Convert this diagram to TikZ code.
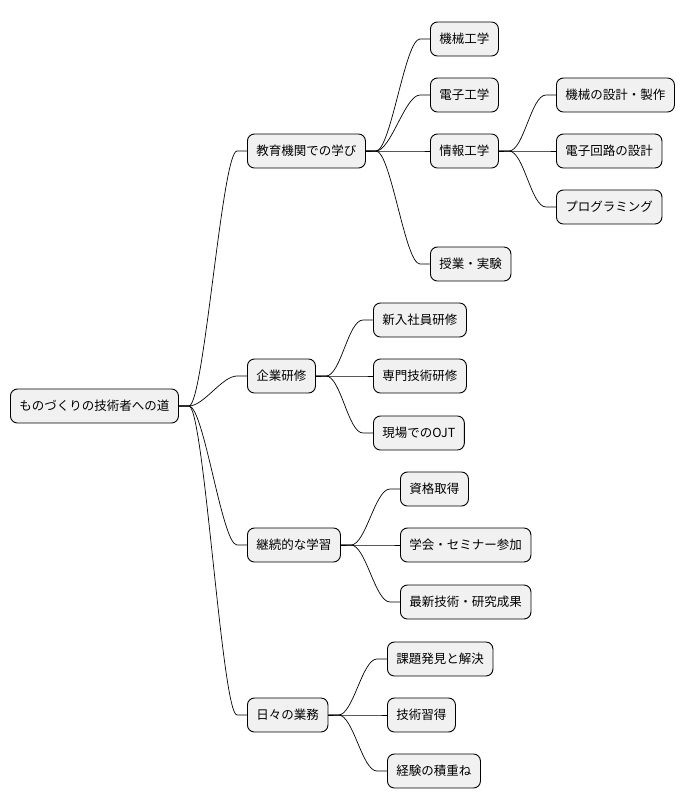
\documentclass[tikz,border=0pt]{standalone}
\usepackage{fontspec}
\setmainfont{Noto Sans CJK JP}
\begin{document}
\begin{tikzpicture}[x=1pt,y=-1pt,
  n/.style={draw=black,fill={rgb,255:red,241;green,241;blue,241},rounded corners=7pt,line width=0.9pt,
    minimum height=34pt,inner xsep=9pt,anchor=west,font=\fontsize{12.5}{15}\selectfont},
  e/.style={line width=0.7pt}]
\useasboundingbox (0,0) rectangle (698,809);
\node[n] (r) at (10,406) {ものづくりの技術者への道};
\node[n] (a) at (247,151) {教育機関での学び};
\node[n] (b) at (247,376) {企業研修};
\node[n] (c) at (247,545) {継続的な学習};
\node[n] (d) at (247,715) {日々の業務};
\node[n] (a1) at (430,39) {機械工学};
\node[n] (a2) at (430,95) {電子工学};
\node[n] (a3) at (430,151) {情報工学};
\node[n] (a4) at (430,264) {授業・実験};
\node[n] (a31) at (556,95) {機械の設計・製作};
\node[n] (a32) at (556,151) {電子回路の設計};
\node[n] (a33) at (556,207) {プログラミング};
\node[n] (b1) at (373,320) {新入社員研修};
\node[n] (b2) at (373,376) {専門技術研修};
\node[n] (b3) at (373,433) {現場でのOJT};
\node[n] (c1) at (400,489) {資格取得};
\node[n] (c2) at (400,545) {学会・セミナー参加};
\node[n] (c3) at (400,602) {最新技術・研究成果};
\node[n] (d1) at (387,659) {課題発見と解決};
\node[n] (d2) at (387,715) {技術習得};
\node[n] (d3) at (387,771) {経験の積重ね};
\foreach \p/\c in {r/a,r/b,r/c,r/d,a/a1,a/a2,a/a3,a/a4,a3/a31,a3/a32,a3/a33,b/b1,b/b2,b/b3,c/c1,c/c2,c/c3,d/d1,d/d2,d/d3}{
  \draw[e] (\p.east) -- ++(10,0) .. controls +(15,0) and +(-15,0) .. ([xshift=-10pt]\c.west) -- (\c.west);
}
\end{tikzpicture}
\end{document}
